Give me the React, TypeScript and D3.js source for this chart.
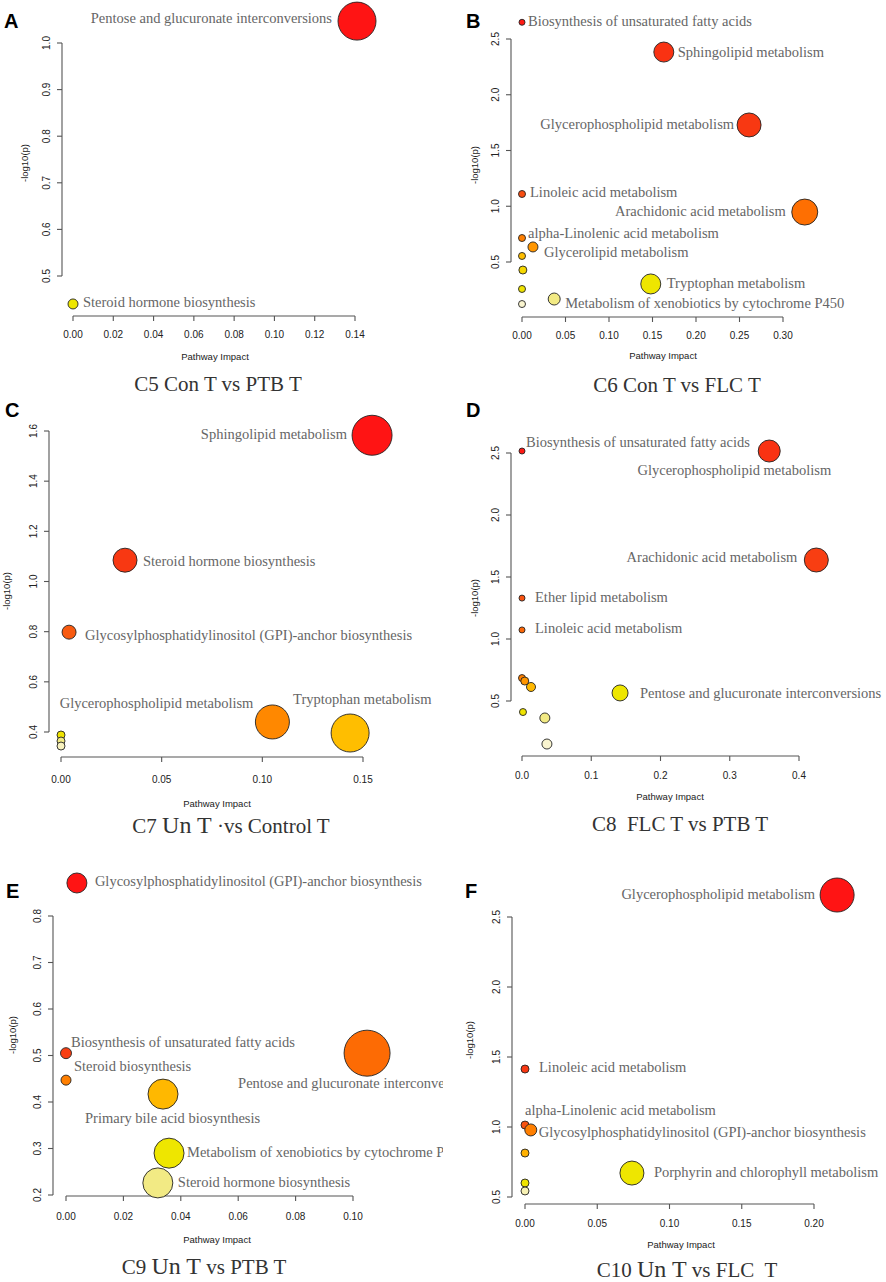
import React from "react";
import * as d3 from "d3";

// ---------------- data ----------------
// heat: 0 = most significant (red) ... 1 = least (pale yellow)
const heatStops = ["#ff1414", "#f83a12", "#f85a10", "#ff7200", "#ff9600", "#ffc000", "#eee600", "#f2ea8a", "#faf5d0"];

const xTicksA = [0, 0.02, 0.04, 0.06, 0.08, 0.1, 0.12, 0.14];
const yTicksA = [0.5, 0.6, 0.7, 0.8, 0.9, 1.0];
const pointsA = [
  { name: "Pentose and glucuronate interconversions", impact: 0.141, logp: 1.047, size: 19, heat: 0 },
  { name: "Steroid hormone biosynthesis", impact: 0.0, logp: 0.44, size: 5, heat: 0.75 },
];
const labelsA = [
  { dx: -25, dy: 2, anchor: "end" },
  { dx: 10, dy: 3, anchor: "start" },
];

const xTicksB = [0, 0.05, 0.1, 0.15, 0.2, 0.25, 0.3];
const yTicksB = [0.5, 1.0, 1.5, 2.0, 2.5];
const pointsB = [
  { name: "Biosynthesis of unsaturated fatty acids", impact: 0.0, logp: 2.65, size: 3, heat: 0.02 },
  { name: "Sphingolipid metabolism", impact: 0.163, logp: 2.383, size: 10, heat: 0.1 },
  { name: "Glycerophospholipid metabolism", impact: 0.261, logp: 1.729, size: 12, heat: 0.12 },
  { name: "Linoleic acid metabolism", impact: 0.0, logp: 1.11, size: 3.5, heat: 0.2 },
  { name: "Arachidonic acid metabolism", impact: 0.325, logp: 0.948, size: 13, heat: 0.36 },
  { name: "alpha-Linolenic acid metabolism", impact: 0.0, logp: 0.715, size: 3.5, heat: 0.42 },
  { name: "Glycerolipid metabolism", impact: 0.0126, logp: 0.635, size: 5, heat: 0.5 },
  { name: "", impact: 0.0, logp: 0.554, size: 3.5, heat: 0.62 },
  { name: "", impact: 0.001, logp: 0.428, size: 4, heat: 0.7 },
  { name: "", impact: 0.0, logp: 0.258, size: 3.5, heat: 0.74 },
  { name: "", impact: 0.0, logp: 0.123, size: 3.5, heat: 1.0 },
  { name: "Tryptophan metabolism", impact: 0.148, logp: 0.303, size: 10, heat: 0.75 },
  { name: "Metabolism of xenobiotics by cytochrome P450", impact: 0.037, logp: 0.168, size: 6, heat: 0.87 },
];
const labelsB = [
  { dx: 6, dy: 4, anchor: "start" },
  { dx: 14, dy: 5, anchor: "start" },
  { dx: -15, dy: 4, anchor: "end" },
  { dx: 8, dy: 3, anchor: "start" },
  { dx: -19, dy: 4, anchor: "end" },
  { dx: 6, dy: 0, anchor: "start" },
  { dx: 11, dy: 10, anchor: "start" },
  null,
  null,
  null,
  null,
  { dx: 16, dy: 4, anchor: "start" },
  { dx: 11, dy: 9, anchor: "start" },
];

const xTicksC = [0, 0.05, 0.1, 0.15];
const yTicksC = [0.4, 0.6, 0.8, 1.0, 1.2, 1.4, 1.6];
const pointsC = [
  { name: "Sphingolipid metabolism", impact: 0.1545, logp: 1.583, size: 20, heat: 0.0 },
  { name: "Steroid hormone biosynthesis", impact: 0.0318, logp: 1.085, size: 12, heat: 0.12 },
  { name: "Glycosylphosphatidylinositol (GPI)-anchor biosynthesis", impact: 0.004, logp: 0.798, size: 7, heat: 0.25 },
  { name: "Glycerophospholipid metabolism", impact: 0.105, logp: 0.44, size: 17, heat: 0.45 },
  { name: "Tryptophan metabolism", impact: 0.1436, logp: 0.396, size: 19, heat: 0.62 },
  { name: "", impact: 0.0, logp: 0.388, size: 4, heat: 0.74 },
  { name: "", impact: 0.0, logp: 0.364, size: 4, heat: 0.87 },
  { name: "", impact: 0.0, logp: 0.344, size: 4, heat: 0.97 },
];
const labelsC = [
  { dx: -25, dy: 4, anchor: "end" },
  { dx: 18, dy: 6, anchor: "start" },
  { dx: 16, dy: 8, anchor: "start" },
  { dx: -19, dy: -14, anchor: "end" },
  { dx: -57, dy: -29, anchor: "start" },
  null,
  null,
  null,
];

const xTicksD = [0, 0.1, 0.2, 0.3, 0.4];
const yTicksD = [0.5, 1.0, 1.5, 2.0, 2.5];
const pointsD = [
  { name: "Biosynthesis of unsaturated fatty acids", impact: 0.0, logp: 2.516, size: 3, heat: 0.02 },
  { name: "Glycerophospholipid metabolism", impact: 0.357, logp: 2.516, size: 11, heat: 0.1 },
  { name: "Arachidonic acid metabolism", impact: 0.425, logp: 1.637, size: 12, heat: 0.14 },
  { name: "Ether lipid metabolism", impact: 0.0, logp: 1.33, size: 3, heat: 0.22 },
  { name: "Linoleic acid metabolism", impact: 0.0, logp: 1.073, size: 3, heat: 0.32 },
  { name: "", impact: 0.0, logp: 0.685, size: 3.5, heat: 0.42 },
  { name: "", impact: 0.004, logp: 0.661, size: 4, heat: 0.5 },
  { name: "", impact: 0.013, logp: 0.613, size: 4.5, heat: 0.6 },
  { name: "Pentose and glucuronate interconversions", impact: 0.1416, logp: 0.565, size: 8, heat: 0.75 },
  { name: "", impact: 0.0014, logp: 0.411, size: 3.5, heat: 0.74 },
  { name: "", impact: 0.033, logp: 0.363, size: 5, heat: 0.87 },
  { name: "", impact: 0.036, logp: 0.153, size: 5, heat: 1.0 },
];
const labelsD = [
  { dx: 4, dy: -4, anchor: "start" },
  { dx: 62, dy: 24, anchor: "end" },
  { dx: -19, dy: 2, anchor: "end" },
  { dx: 13, dy: 4, anchor: "start" },
  { dx: 13, dy: 3, anchor: "start" },
  null,
  null,
  null,
  { dx: 20, dy: 5, anchor: "start" },
  null,
  null,
  null,
];

const xTicksE = [0, 0.02, 0.04, 0.06, 0.08, 0.1];
const yTicksE = [0.2, 0.3, 0.4, 0.5, 0.6, 0.7, 0.8];
const pointsE = [
  { name: "Glycosylphosphatidylinositol (GPI)-anchor biosynthesis", impact: 0.0038, logp: 0.871, size: 10, heat: 0.0 },
  { name: "Biosynthesis of unsaturated fatty acids", impact: 0.0, logp: 0.505, size: 5.5, heat: 0.14 },
  { name: "Steroid biosynthesis", impact: 0.0, logp: 0.447, size: 5, heat: 0.42 },
  { name: "Pentose and glucuronate interconversions", impact: 0.1049, logp: 0.505, size: 23, heat: 0.34 },
  { name: "Primary bile acid biosynthesis", impact: 0.0338, logp: 0.417, size: 15, heat: 0.6 },
  { name: "Metabolism of xenobiotics by cytochrome P450", impact: 0.0359, logp: 0.29, size: 15, heat: 0.75 },
  { name: "Steroid hormone biosynthesis", impact: 0.032, logp: 0.226, size: 15, heat: 0.87 },
];
const labelsE = [
  { dx: 18, dy: 3, anchor: "start" },
  { dx: 5, dy: -6, anchor: "start" },
  { dx: 8, dy: -9, anchor: "start" },
  { dx: -129, dy: 35, anchor: "start" },
  { dx: -78, dy: 29, anchor: "start" },
  { dx: 18, dy: 4, anchor: "start" },
  { dx: 20, dy: 4, anchor: "start" },
];

const xTicksF = [0, 0.05, 0.1, 0.15, 0.2];
const yTicksF = [0.5, 1.0, 1.5, 2.0, 2.5];
const pointsF = [
  { name: "Glycerophospholipid metabolism", impact: 0.216, logp: 2.657, size: 17, heat: 0.0 },
  { name: "Linoleic acid metabolism", impact: 0.0, logp: 1.414, size: 4, heat: 0.12 },
  { name: "alpha-Linolenic acid metabolism", impact: 0.0, logp: 1.014, size: 4, heat: 0.22 },
  { name: "Glycosylphosphatidylinositol (GPI)-anchor biosynthesis", impact: 0.004, logp: 0.979, size: 6, heat: 0.42 },
  { name: "", impact: 0.0, logp: 0.814, size: 4, heat: 0.58 },
  { name: "Porphyrin and chlorophyll metabolism", impact: 0.074, logp: 0.671, size: 12, heat: 0.75 },
  { name: "", impact: 0.0, logp: 0.6, size: 4, heat: 0.74 },
  { name: "", impact: 0.0, logp: 0.543, size: 4, heat: 0.95 },
];
const labelsF = [
  { dx: -22, dy: 4, anchor: "end" },
  { dx: 14, dy: 3, anchor: "start" },
  { dx: 0, dy: -10, anchor: "start" },
  { dx: 8, dy: 7, anchor: "start" },
  null,
  { dx: 22, dy: 4, anchor: "start" },
  null,
  null,
];

const titleA = [{ t: "C5 Con T vs PTB T" }];
const titleB = [{ t: "C6 Con T vs FLC T" }];
const titleC = [{ t: "C7 " }, { t: "Un T", big: true }, { t: " ·vs Control T" }];
const titleD = [{ t: "C8  FLC T vs PTB T" }];
const titleE = [{ t: "C9 " }, { t: "Un T", big: true }, { t: " vs PTB T" }];
const titleF = [{ t: "C10 " }, { t: "Un T", big: true }, { t: " vs FLC  T" }];

// ---------------- layout ----------------
const W = 886;
const H = 1282;
const heatColor = d3.piecewise(d3.interpolateRgb, heatStops);

const SERIF = "'Liberation Serif', 'DejaVu Serif', serif";
const SANS = "'Liberation Sans', Arial, sans-serif";

const panels = [
  {
    id: "A", points: pointsA, labels: labelsA, xTicks: xTicksA, yTicks: yTicksA, title: titleA,
    xRange: [73, 355], yRange: [276, 43], yAxisX: 62, xAxisY: 316, tickDy: 22, xFmt: ".2f",
    xlabel: [215, 360], ylabel: [25, 163], titlePos: [218, 391], letter: [4, 28], clip: [0, 0, 443, 400],
  },
  {
    id: "B", points: pointsB, labels: labelsB, xTicks: xTicksB, yTicks: yTicksB, title: titleB,
    xRange: [522, 783], yRange: [262, 39], yAxisX: 511, xAxisY: 317, tickDy: 22, xFmt: ".2f",
    xlabel: [663, 359], ylabel: [475, 165], titlePos: [677, 392], letter: [466, 28], clip: [443, 0, 443, 400],
  },
  {
    id: "C", points: pointsC, labels: labelsC, xTicks: xTicksC, yTicks: yTicksC, title: titleC,
    xRange: [61, 363], yRange: [732, 431], yAxisX: 49, xAxisY: 757, tickDy: 26, xFmt: ".2f",
    xlabel: [217, 807], ylabel: [7, 591], titlePos: [231, 833], letter: [5, 417], clip: [0, 400, 443, 440],
  },
  {
    id: "D", points: pointsD, labels: labelsD, xTicks: xTicksD, yTicks: yTicksD, title: titleD,
    xRange: [522, 799], yRange: [701, 453], yAxisX: 511, xAxisY: 756, tickDy: 23, xFmt: ".1f",
    xlabel: [670, 800], ylabel: [475, 598], titlePos: [680, 831], letter: [466, 417], clip: [443, 400, 443, 440],
  },
  {
    id: "E", points: pointsE, labels: labelsE, xTicks: xTicksE, yTicks: yTicksE, title: titleE,
    xRange: [66, 353], yRange: [1195, 916], yAxisX: 53, xAxisY: 1196, tickDy: 24, xFmt: ".2f",
    xlabel: [217, 1243], ylabel: [13, 1035], titlePos: [204, 1274], letter: [6, 898], clip: [0, 840, 443, 442],
  },
  {
    id: "F", points: pointsF, labels: labelsF, xTicks: xTicksF, yTicks: yTicksF, title: titleF,
    xRange: [525, 814], yRange: [1197, 917], yAxisX: 512, xAxisY: 1204, tickDy: 23, xFmt: ".2f",
    xlabel: [681, 1248], ylabel: [470, 1040], titlePos: [687, 1277], letter: [465, 898], clip: [443, 840, 443, 442],
  },
];

function Panel({ p }: { p: any }) {
  const xs = d3.scaleLinear().domain([p.xTicks[0], p.xTicks[p.xTicks.length - 1]]).range(p.xRange);
  const ys = d3.scaleLinear().domain([p.yTicks[0], p.yTicks[p.yTicks.length - 1]]).range(p.yRange);
  const rs = d3.scaleLinear().domain([0, 1]).range([0, 1]);
  const xf = d3.format(p.xFmt);
  const yf = d3.format(".1f");
  const axisColor = "#555";
  const clipId = "clip" + p.id;
  const y0 = ys(p.yTicks[0]);
  const y1 = ys(p.yTicks[p.yTicks.length - 1]);
  const x0 = xs(p.xTicks[0]);
  const x1 = xs(p.xTicks[p.xTicks.length - 1]);
  return (
    <g>
      <defs>
        <clipPath id={clipId}>
          <rect x={p.clip[0]} y={p.clip[1]} width={p.clip[2]} height={p.clip[3]} />
        </clipPath>
      </defs>
      <g clipPath={`url(#${clipId})`}>
        {/* y axis */}
        <line x1={p.yAxisX} x2={p.yAxisX} y1={y0} y2={y1} stroke={axisColor} strokeWidth={1.1} />
        {p.yTicks.map((t: number) => (
          <g key={"y" + t}>
            <line x1={p.yAxisX - 5} x2={p.yAxisX} y1={ys(t)} y2={ys(t)} stroke={axisColor} strokeWidth={1.1} />
            <text
              transform={`translate(${p.yAxisX - 16},${ys(t)}) rotate(-90)`}
              textAnchor="middle"
              dy="0.35em"
              fontFamily={SANS}
              fontSize={10}
              fill="#222"
            >
              {yf(t)}
            </text>
          </g>
        ))}
        {/* x axis */}
        <line x1={x0} x2={x1} y1={p.xAxisY} y2={p.xAxisY} stroke={axisColor} strokeWidth={1.1} />
        {p.xTicks.map((t: number) => (
          <g key={"x" + t}>
            <line x1={xs(t)} x2={xs(t)} y1={p.xAxisY} y2={p.xAxisY + 5} stroke={axisColor} strokeWidth={1.1} />
            <text x={xs(t)} y={p.xAxisY + p.tickDy} textAnchor="middle" fontFamily={SANS} fontSize={10} fill="#222">
              {xf(t)}
            </text>
          </g>
        ))}
        <text x={p.xlabel[0]} y={p.xlabel[1]} textAnchor="middle" fontFamily={SANS} fontSize={9.5} fill="#222">
          Pathway Impact
        </text>
        <text
          transform={`translate(${p.ylabel[0]},${p.ylabel[1]}) rotate(-90)`}
          textAnchor="middle"
          dy="0.35em"
          fontFamily={SANS}
          fontSize={9.5}
          fill="#222"
        >
          -log10(p)
        </text>
        {/* bubbles */}
        {p.points.map((d: any, i: number) => (
          <circle
            key={"c" + i}
            cx={xs(d.impact)}
            cy={ys(d.logp)}
            r={rs(d.size)}
            fill={heatColor(d.heat)}
            stroke="#222"
            strokeWidth={0.9}
          />
        ))}
        {/* labels */}
        {p.points.map((d: any, i: number) => {
          const l = p.labels[i];
          if (!l || !d.name) return null;
          return (
            <text
              key={"l" + i}
              x={xs(d.impact) + l.dx}
              y={ys(d.logp) + l.dy}
              textAnchor={l.anchor}
              fontFamily={SERIF}
              fontSize={14.5}
              fill="#666"
            >
              {d.name}
            </text>
          );
        })}
        {/* title */}
        <text
          x={p.titlePos[0]}
          y={p.titlePos[1]}
          textAnchor="middle"
          fontFamily={SERIF}
          fontSize={21}
          fill="#333"
          style={{ whiteSpace: "pre" }}
        >
          {p.title.map((s: any, k: number) => (
            <tspan key={k} fontSize={s.big ? 24 : 21}>
              {s.t}
            </tspan>
          ))}
        </text>
      </g>
      <text x={p.letter[0]} y={p.letter[1]} fontFamily={SANS} fontWeight="bold" fontSize={20} fill="#000">
        {p.id}
      </text>
    </g>
  );
}

export default function App() {
  return (
    <svg
      width={W}
      height={H}
      viewBox={`0 0 ${W} ${H}`}
      style={{ position: "absolute", left: 0, top: 0, background: "#fff" }}
    >
      <rect x={0} y={0} width={W} height={H} fill="#fff" />
      {panels.map((p) => (
        <Panel key={p.id} p={p} />
      ))}
    </svg>
  );
}
